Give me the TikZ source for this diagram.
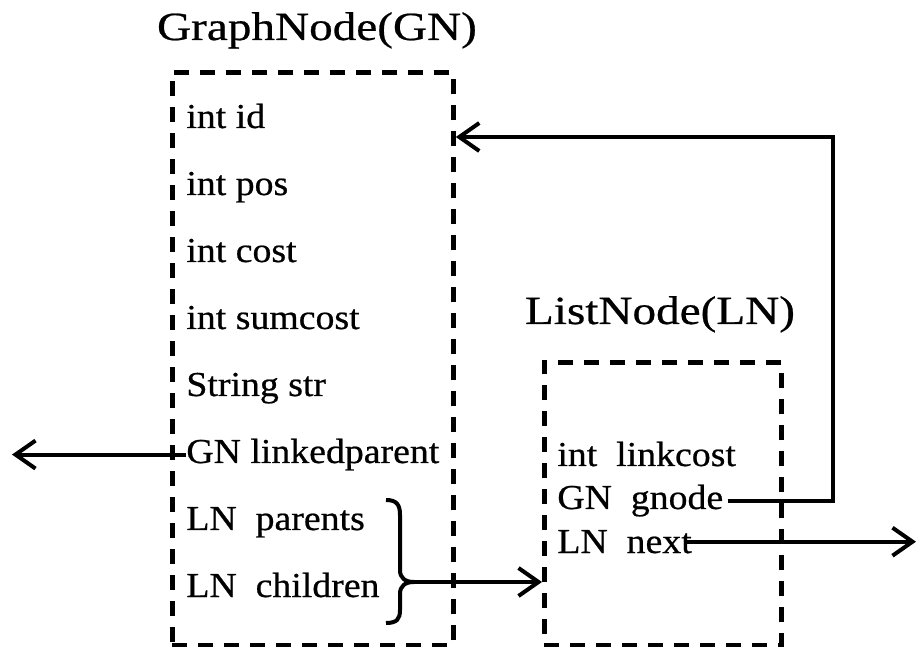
\documentclass[tikz,border=0pt]{standalone}
\usepackage{fontspec}
\setmainfont{Liberation Serif}
\newfontfamily\titlefont[FakeStretch=1.18, FakeBold=0.6]{Liberation Serif}
\newfontfamily\fieldfont[FakeStretch=1.08, FakeBold=0.6]{Liberation Serif}
\usetikzlibrary{arrows.meta}

\begin{document}
\begin{tikzpicture}[x=0.5pt, y=-0.5pt,
        title/.style={anchor=base, inner sep=0pt, font=\titlefont\fontsize{20}{20}\selectfont},
        field/.style={anchor=base west, inner sep=0pt, font=\fieldfont\fontsize{17.5}{18}\selectfont},
        frame/.style={draw, line width=2.4pt, dash pattern=on 7.5pt off 5.5pt, anchor=north west, inner sep=0pt},
        link/.style={line width=2pt},
        arrow/.style={link, -{Straight Barb[length=10pt, width=14pt, line width=2pt]}}
    ]
    \useasboundingbox (0,0) rectangle (918,647);

    % GraphNode
    \node[title] (gntitle) at (317,40) {GraphNode(GN)};
    \node[frame, minimum width=140.5pt, minimum height=286.5pt] (gnbox) at (170,70) {};
    \node[field] (id) at (186,128) {int id};
    \node[field] (pos) at (186,195) {int pos};
    \node[field] (cost) at (186,262) {int cost};
    \node[field] (sumcost) at (186,329) {int sumcost};
    \node[field] (str) at (186,396) {String str};
    \node[field] (linkedparent) at (186,463) {GN linkedparent};
    \node[field] (parents) at (186,530) {LN\ \ parents};
    \node[field] (children) at (186,597) {LN\ \ children};

    % ListNode
    \node[title] (lntitle) at (660,324) {ListNode(LN)};
    \node[frame, minimum width=118.5pt, minimum height=141.5pt] (lnbox) at (542,360) {};
    \node[field] (linkcost) at (557,466) {int\ \ linkcost};
    \node[field] (gnode) at (557,509) {GN\ \ gnode};
    \node[field] (next) at (557,553) {LN\ \ next};

    % brace round parents and children
    \draw[link] (386,500) .. controls (397,500) and (400,505) .. (400,515)
        -- (400,570) .. controls (400,578) and (405,582) .. (414,582)
        .. controls (405,582) and (400,586) .. (400,594)
        -- (400,610) .. controls (400,619) and (397,623) .. (386,623);
    \coordinate (bracetip) at (414,582);

    \coordinate (parentout) at (12,0);
    \coordinate (nextout) at (916,0);
    \coordinate (back) at (833,137);

    \draw[arrow] (linkedparent.west) -- (linkedparent.west -| parentout);
    \draw[arrow] (bracetip) -- (bracetip -| lnbox.west);
    \draw[arrow, shorten <=2pt] (gnode.east) -- (gnode.east -| back) -- (back) -- (back -| gnbox.east);
    \draw[arrow] ([xshift=-4pt]next.east) -- (next.east -| nextout);
\end{tikzpicture}
\end{document}
